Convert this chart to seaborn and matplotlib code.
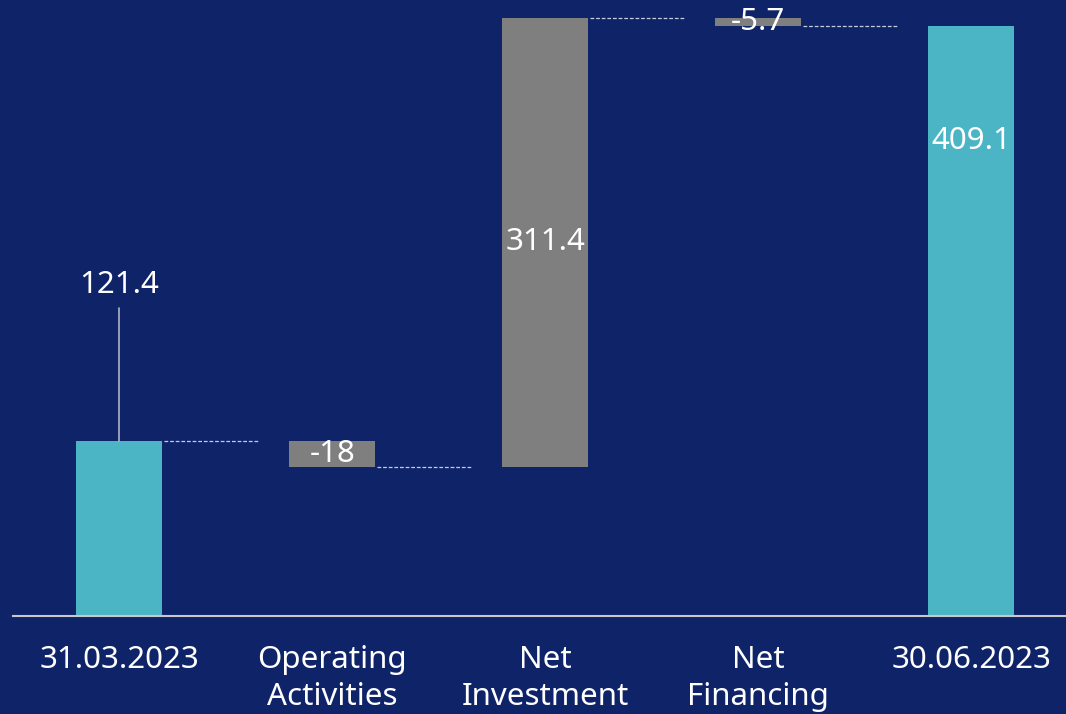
import matplotlib
matplotlib.use("Agg")
import matplotlib.pyplot as plt
import seaborn as sns
import numpy as np
from matplotlib import font_manager

categories = ["31.03.2023", "Operating\nActivities", "Net\nInvestment", "Net\nFinancing", "30.06.2023"]
changes = [121.4, -18.0, 311.4, -5.7, 409.1]
is_total = [True, False, False, False, True]
labels = ["121.4", "-18", "311.4", "-5.7", "409.1"]

BG = "#0F2369"
TEAL = "#4BB5C6"
GRAY = "#7F7F7F"

sns.set_theme(style="white")
names = {f.name for f in font_manager.fontManager.ttflist}
fam = [n for n in ["Liberation Sans Narrow", "Noto Sans", "DejaVu Sans"] if n in names]
plt.rcParams["font.family"] = fam

# waterfall geometry derived from data
bottoms, heights, tops = [], [], []
running = 0.0
for v, tot in zip(changes, is_total):
    if tot:
        bottoms.append(0.0); heights.append(v); running = v
    else:
        new = running + v
        bottoms.append(min(running, new)); heights.append(abs(v)); running = new
    tops.append(running)

fig = plt.figure(figsize=(10.66, 7.14), dpi=100, facecolor=BG)
ax = fig.add_axes([0.012, 0.1373, 0.988, 0.8627])
ax.set_facecolor(BG)

sns.barplot(x=categories, y=heights, bottom=bottoms, color=GRAY, width=0.405,
            saturation=1, ax=ax, linewidth=0)
for p, tot in zip(ax.patches, is_total):
    p.set_facecolor(TEAL if tot else GRAY)

ax.set_xlim(-0.5, 4.445)
ax.set_ylim(0, 427)

# connectors
for i in range(len(categories) - 1):
    y = tops[i]
    ax.plot([i + 0.21, i + 0.65], [y, y], ls=(0, (3, 1.5)), color="#C8CCDA", lw=0.9)

# labels
FS = 22.5
for i, (b, h, lab, tot) in enumerate(zip(bottoms, heights, labels, is_total)):
    if i == 0:
        ax.plot([i, i], [b + h, b + h + 92], color="#B0B4C4", lw=1.2)
        ax.text(i, b + h + 108, lab, ha="center", va="center", color="white", fontsize=FS)
    elif i == len(categories) - 1:
        ax.text(i, b + h - 80, lab, ha="center", va="center", color="white", fontsize=FS)
    else:
        ax.text(i, b + h / 2, lab, ha="center", va="center", color="white", fontsize=FS)

for s in ["top", "right", "left"]:
    ax.spines[s].set_visible(False)
ax.spines["bottom"].set_color("#C8C8C8")
ax.spines["bottom"].set_linewidth(1.5)
ax.set_yticks([])
ax.tick_params(axis="x", length=0, pad=21, labelsize=FS, labelcolor="white")
for t in ax.get_xticklabels():
    t.set_linespacing(1.3)
ax.set_xlabel(""); ax.set_ylabel("")

fig.savefig("out.png", dpi=100, facecolor=BG)
